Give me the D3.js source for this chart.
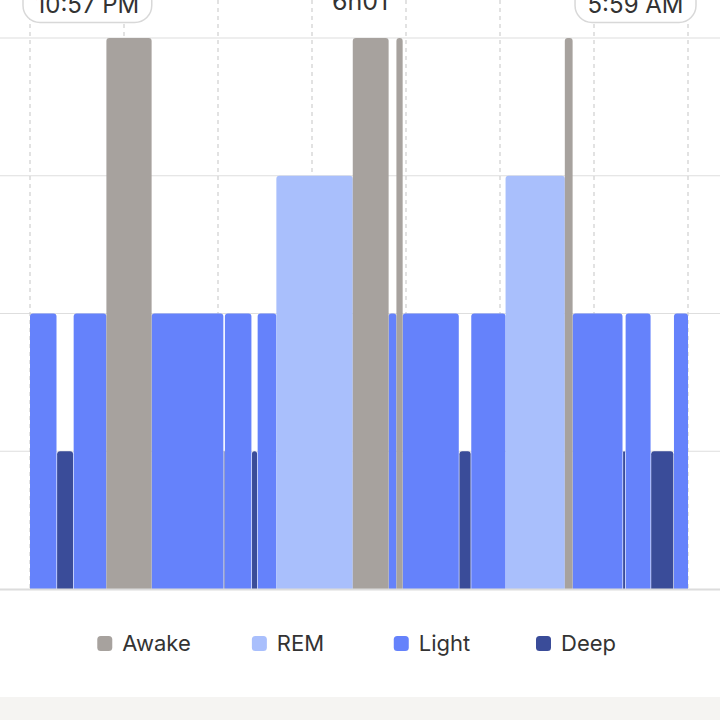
<!DOCTYPE html>
<html lang="en">
<head>
    <meta charset="UTF-8">
    <title>Sleep Stages</title>
    <script src="https://d3js.org/d3.v7.min.js"></script>
    <style>
        html, body {
            margin: 0;
            padding: 0;
            background: #ffffff;
            font-family: Inter, "Noto Sans", sans-serif;
        }
        #chart {
            width: 720px;
            height: 720px;
        }
    </style>
</head>
<body>
    <div id="chart"></div>

    <script>
        // sleep stages, each segment runs until the next start
        const segStarts = ["22:57", "23:14", "23:25", "23:46", "00:15", "01:01", "01:02", "01:19", "01:23",
            "01:35", "02:24", "02:47", "02:52", "02:56", "03:32", "03:40", "04:02", "04:40", "04:45",
            "05:17", "05:19", "05:35", "05:50"];
        const segStages = ["Light", "Deep", "Light", "Awake", "Light", "Deep", "Light", "Deep", "Light",
            "REM", "Awake", "Light", "Awake", "Light", "Deep", "Light", "REM", "Awake", "Light",
            "Deep", "Light", "Deep", "Light"];
        const endTime = "05:59";

        const stageNames = ["Awake", "REM", "Light", "Deep"];
        const stageLevels = [4, 3, 2, 1];
        const stageColors = ["#a7a29e", "#a9bffc", "#6582fb", "#3a4c99"];

        const startLabel = "10:57 PM";
        const endLabel = "5:59 AM";
        const durationLabel = "6h01";

        const W = 720, H = 720;
        const svg = d3.select('#chart').append('svg')
            .attr('width', W)
            .attr('height', H);

        // turn "HH:MM" into a date, evening times on day 1, morning on day 2
        function toDate(s) {
            const [h, m] = s.split(':').map(Number);
            const day = h >= 12 ? 1 : 2;
            return new Date(2024, 0, day, h, m);
        }

        const segments = segStarts.map((s, i) => ({
            start: toDate(s),
            end: toDate(i < segStarts.length - 1 ? segStarts[i + 1] : endTime),
            stage: segStages[i]
        }));

        const t0 = toDate(segStarts[0]);
        const t1 = toDate(endTime);

        const x = d3.scaleTime().domain([t0, t1]).range([30, 688]);
        const y = d3.scaleLinear().domain([0, 4]).range([589, 38]);
        const level = d3.scaleOrdinal().domain(stageNames).range(stageLevels);
        const color = d3.scaleOrdinal().domain(stageNames).range(stageColors);

        // bottom band
        svg.append('rect')
            .attr('x', 0).attr('y', 697)
            .attr('width', W).attr('height', H - 697)
            .attr('fill', '#f5f4f2');

        // horizontal grid
        svg.append('g')
            .selectAll('line')
            .data([1, 2, 3, 4])
            .join('line')
            .attr('x1', 0).attr('x2', W)
            .attr('y1', d => y(d)).attr('y2', d => y(d))
            .attr('stroke', '#dedede')
            .attr('stroke-width', 1.2);

        // vertical dashed lines, evenly dividing the night
        const vTicks = d3.range(8).map(i => new Date(+t0 + i * (t1 - t0) / 7));
        svg.append('g')
            .selectAll('line')
            .data(vTicks)
            .join('line')
            .attr('x1', d => x(d)).attr('x2', d => x(d))
            .attr('y1', 0).attr('y2', y(0))
            .attr('stroke', '#cfcfcf')
            .attr('stroke-width', 1.2)
            .attr('stroke-dasharray', '4,4');

        // bar with rounded top corners only
        function barPath(x0, x1, top, bottom, r) {
            const w = x1 - x0;
            r = Math.min(r, w / 2);
            return `M${x0},${bottom}V${top + r}Q${x0},${top} ${x0 + r},${top}` +
                `H${x1 - r}Q${x1},${top} ${x1},${top + r}V${bottom}Z`;
        }

        // draw lower stages first so taller ones sit on top
        const ordered = segments.slice().sort((a, b) => level(a.stage) - level(b.stage));
        svg.append('g')
            .selectAll('path')
            .data(ordered)
            .join('path')
            .attr('d', d => {
                const inset = d.stage === 'Deep' ? 0.6 : 0;
                let x0 = x(d.start) + inset, x1 = x(d.end) - inset;
                if (x1 - x0 < 0.8) { const c = (x0 + x1) / 2; x0 = c - 0.4; x1 = c + 0.4; }
                return barPath(x0, x1, y(level(d.stage)), y(0), 3);
            })
            .attr('fill', d => color(d.stage));

        // baseline
        svg.append('line')
            .attr('x1', 0).attr('x2', W)
            .attr('y1', y(0) + 0.5).attr('y2', y(0) + 0.5)
            .attr('stroke', '#dcdcdc')
            .attr('stroke-width', 2);

        // time pills
        function pill(label, anchorX, side) {
            const g = svg.append('g');
            const txt = g.append('text')
                .attr('y', 13)
                .attr('font-size', 24)
                .attr('fill', '#333')
                .text(label);
            const tw = txt.node().getComputedTextLength();
            const pad = 12.5;
            const pw = tw + pad * 2;
            const px = side === 'left' ? anchorX - 7 : anchorX + 8 - pw;
            g.insert('rect', 'text')
                .attr('x', px).attr('y', -16)
                .attr('width', pw).attr('height', 38.5)
                .attr('rx', 17)
                .attr('fill', '#fff')
                .attr('stroke', '#d8d8d8')
                .attr('stroke-width', 1.5);
            txt.attr('x', px + pad);
        }
        pill(startLabel, x(t0), 'left');
        pill(endLabel, x(t1), 'right');

        svg.append('text')
            .attr('x', (x(t0) + x(t1)) / 2 + 1)
            .attr('y', 10)
            .attr('text-anchor', 'middle')
            .attr('font-size', 25)
            .attr('fill', '#333')
            .text(durationLabel);

        // legend, items centred at equal steps
        const legend = svg.append('g');
        stageNames.forEach((name, i) => {
            const g = legend.append('g');
            g.append('rect')
                .attr('y', 636).attr('width', 15).attr('height', 15)
                .attr('rx', 3.5)
                .attr('fill', color(name));
            const t = g.append('text')
                .attr('x', 25).attr('y', 651)
                .attr('font-size', 22)
                .attr('fill', '#333')
                .text(name);
            const w = 25 + t.node().getComputedTextLength();
            g.attr('transform', `translate(${(i + 1) * 144 - w / 2},0)`);
        });
    </script>
</body>
</html>
